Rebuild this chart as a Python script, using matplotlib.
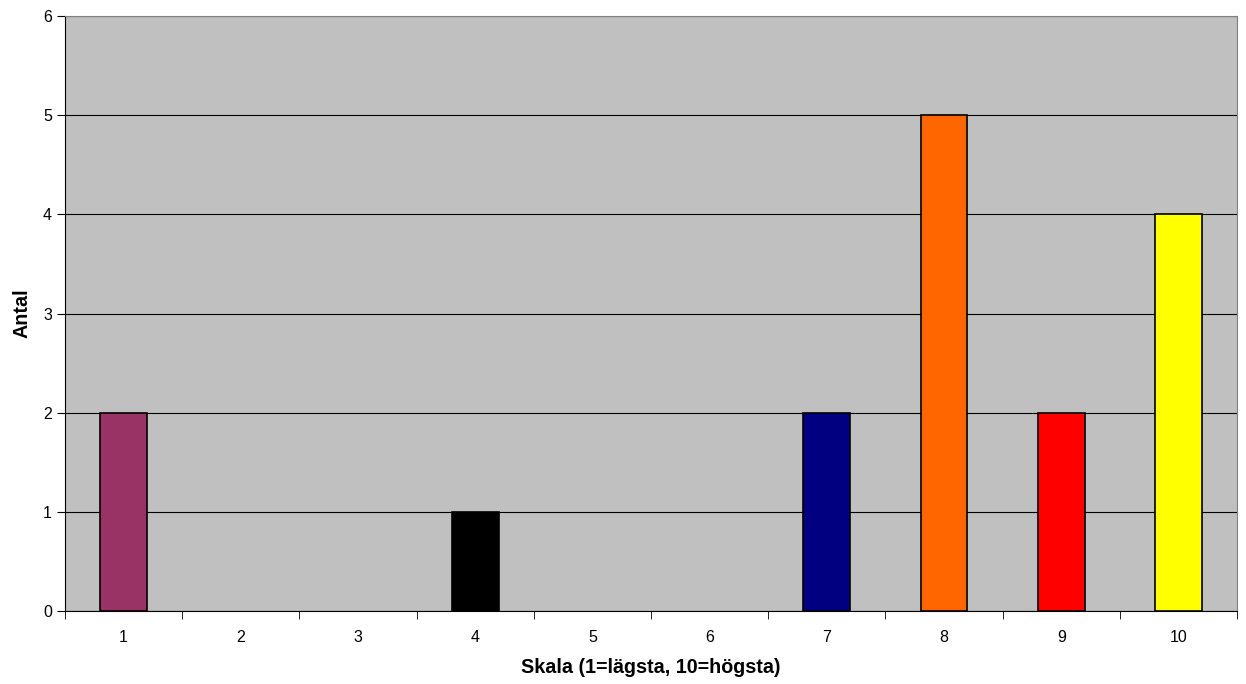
import matplotlib
matplotlib.use("Agg")
import matplotlib.pyplot as plt
import numpy as np

categories = ["1", "2", "3", "4", "5", "6", "7", "8", "9", "10"]
values = [2, 0, 0, 1, 0, 0, 2, 5, 2, 4]
colors = ["#993366", "#C0C0C0", "#C0C0C0", "#000000", "#C0C0C0",
          "#C0C0C0", "#000080", "#FF6600", "#FF0000", "#FFFF00"]

plt.rcParams["font.family"] = ["Liberation Sans", "DejaVu Sans"]

fig = plt.figure(figsize=(12.46, 6.84), dpi=100)
ax = fig.add_axes([0.0522, 0.1067, 0.9406, 0.8699])
ax.set_facecolor("#C0C0C0")

x = np.arange(len(categories))
for xi, v, c in zip(x, values, colors):
    if v > 0:
        ax.bar(xi, v, width=0.4, color=c, edgecolor="black", linewidth=1.2, zorder=3)

ax.set_xlim(-0.5, len(categories) - 0.5)
ax.set_ylim(0, 6)
ax.set_yticks(range(0, 7))
ax.yaxis.grid(True, color="black", linewidth=0.8, zorder=1)
ax.set_axisbelow(True)

ax.set_xticks(x)
ax.set_xticklabels(categories, fontsize=11.5)
ax.set_xticks(np.arange(-0.5, len(categories)), minor=True)
ax.tick_params(axis="x", which="major", length=0, pad=14)
ax.tick_params(axis="x", which="minor", length=6, direction="out", color="black")
ax.tick_params(axis="y", length=6, labelsize=11.5, color="black")

for s in ["top", "right"]:
    ax.spines[s].set_color("#808080")
for s in ["left", "bottom"]:
    ax.spines[s].set_color("black")

ax.set_xlabel("Skala (1=lägsta, 10=högsta)", fontsize=14.2, fontweight="bold", labelpad=9)
ax.set_ylabel("Antal", fontsize=14.2, fontweight="bold", labelpad=8)

fig.savefig("out.png", dpi=100)
